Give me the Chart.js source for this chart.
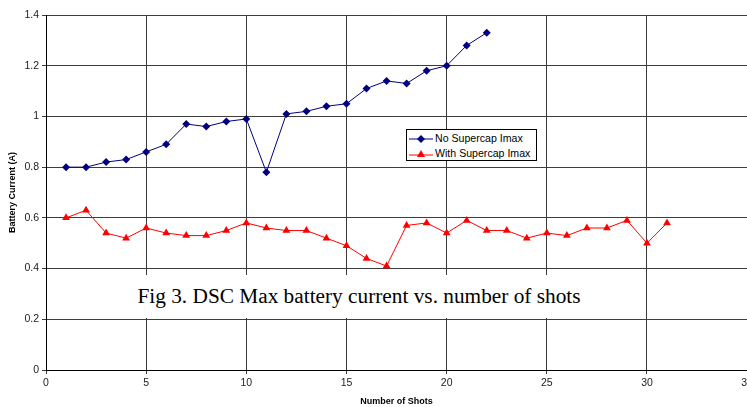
<!DOCTYPE html>
<html>
<head>
<meta charset="utf-8">
<script src="https://cdn.jsdelivr.net/npm/chart.js@4.4.0/dist/chart.umd.min.js"></script>
<style>
    body { margin: 0; background: #fff; }
    #wrap { position: relative; width: 747px; height: 407px; overflow: hidden; }
    #chart { position: absolute; left: 0; top: 0; }
    #caption {
        position: absolute; left: 126px; top: 275px; width: 466px; height: 43px;
        background: #fff; font-family: "Liberation Serif", "Times New Roman", serif;
        font-size: 21.3px; color: #000; line-height: 43px; text-align: center;
    }
    #legend {
        position: absolute; left: 406px; top: 129px; width: 129px; height: 30px;
        background: #fff; border: 1px solid #000;
        font-family: "Liberation Sans", Arial, sans-serif; font-size: 10.6px; color: #000;
    }
    #legend .row { position: absolute; left: 2px; height: 14px; line-height: 14px; white-space: nowrap; }
    #legend svg { vertical-align: middle; margin-right: 2px; }
</style>
</head>
<body>
<div id="wrap">
    <canvas id="chart" width="756" height="407"></canvas>
    <div id="caption">Fig 3. DSC Max battery current vs. number of shots</div>
    <div id="legend">
        <div class="row" style="top:1px">
            <svg width="24" height="10"><line x1="0" y1="5" x2="24" y2="5" stroke="#000080" stroke-width="1"/><polygon points="12,1 16,5 12,9 8,5" fill="#000080"/></svg>No Supercap Imax
        </div>
        <div class="row" style="top:16px">
            <svg width="24" height="10"><line x1="0" y1="6" x2="24" y2="6" stroke="#ff0000" stroke-width="1"/><polygon points="12,1 16,8 8,8" fill="#ff0000"/></svg>With Supercap Imax
        </div>
    </div>
</div>
<script>
// ========================================
// データ
// ========================================

// ショット番号
const shotsNoCap = [1, 2, 3, 4, 5, 6, 7, 8, 9, 10, 11, 12, 13, 14, 15, 16, 17, 18, 19, 20, 21, 22];
const shotsWithCap = [1, 2, 3, 4, 5, 6, 7, 8, 9, 10, 11, 12, 13, 14, 15, 16, 17, 18, 19, 20,
    21, 22, 23, 24, 25, 26, 27, 28, 29, 30, 31];

// 最大電流 (A)
const noSupercapImax = [0.80, 0.80, 0.82, 0.83, 0.86, 0.89, 0.97, 0.96, 0.98, 0.99, 0.78,
    1.01, 1.02, 1.04, 1.05, 1.11, 1.14, 1.13, 1.18, 1.20, 1.28, 1.33];
const withSupercapImax = [0.60, 0.63, 0.54, 0.52, 0.56, 0.54, 0.53, 0.53, 0.55, 0.58, 0.56,
    0.55, 0.55, 0.52, 0.49, 0.44, 0.41, 0.57, 0.58, 0.54, 0.59, 0.55, 0.55, 0.52, 0.54,
    0.53, 0.56, 0.56, 0.59, 0.50, 0.58];

// 軸の設定
const xTicks = { min: 0, max: 35, step: 5 };
const yTicks = { min: 0, max: 1.4, step: 0.2 };

// ========================================
// グラフ
// ========================================

function toPoints(xs, ys) {
    return xs.map((x, i) => ({ x: x, y: ys[i] }));
}

const gridColor = '#3c3c3c';
const tickFont = { family: 'Liberation Sans, Arial, sans-serif', size: 10.5 };

const ctx = document.getElementById('chart').getContext('2d');
new Chart(ctx, {
    type: 'line',
    data: {
        datasets: [{
            label: 'No Supercap Imax',
            data: toPoints(shotsNoCap, noSupercapImax),
            borderColor: '#000080',
            backgroundColor: '#000080',
            borderWidth: 1,
            pointStyle: 'rectRot',
            pointRadius: 4,
            pointBorderWidth: 0,
            tension: 0
        }, {
            label: 'With Supercap Imax',
            data: toPoints(shotsWithCap, withSupercapImax),
            borderColor: '#ff0000',
            backgroundColor: '#ff0000',
            borderWidth: 1,
            pointStyle: 'triangle',
            pointRadius: 4.5,
            pointBorderWidth: 0,
            tension: 0
        }]
    },
    options: {
        responsive: false,
        animation: false,
        layout: { padding: { top: 15, left: 0, right: 0, bottom: 0 } },
        plugins: {
            legend: { display: false },
            tooltip: { enabled: false }
        },
        scales: {
            x: {
                type: 'linear',
                min: xTicks.min,
                max: xTicks.max,
                ticks: { stepSize: xTicks.step, color: '#222', font: tickFont, padding: 3, maxRotation: 0 },
                grid: { color: gridColor, tickLength: 4 },
                border: { color: '#000', width: 1 },
                title: {
                    display: true,
                    text: 'Number of Shots',
                    color: '#000',
                    font: { family: 'Liberation Sans, Arial, sans-serif', size: 9, weight: 'bold' },
                    padding: 0
                },
                afterFit: function(scale) { scale.height = 37; }
            },
            y: {
                min: yTicks.min,
                max: yTicks.max,
                ticks: {
                    stepSize: yTicks.step, color: '#222', font: tickFont, padding: 3,
                    callback: function(value) { return String(Math.round(value * 10) / 10); }
                },
                grid: { color: gridColor, tickLength: 4 },
                border: { color: '#000', width: 1 },
                title: {
                    display: true,
                    text: 'Battery Current (A)',
                    color: '#000',
                    font: { family: 'Liberation Sans, Arial, sans-serif', size: 9, weight: 'bold' },
                    padding: { top: 7, bottom: 0 }
                },
                afterFit: function(scale) { scale.width = 46; }
            }
        }
    }
});
</script>
</body>
</html>
